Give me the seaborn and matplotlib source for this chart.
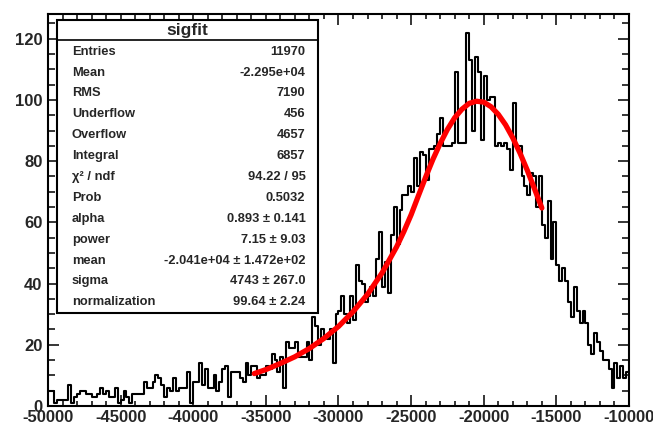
import numpy as np
import pandas as pd
import matplotlib.pyplot as plt
import seaborn as sns
from matplotlib.ticker import MultipleLocator
from matplotlib.patches import Rectangle
from matplotlib.lines import Line2D

""" Data read off the reference """
bin_lo, bin_hi, n_bins = -50000, -10000, 200

# 200 bins, 200 wide each
counts = [
    5, 5, 1, 2, 2, 2, 2, 7, 1, 3,
    4, 5, 5, 4, 4, 3, 3, 4, 6, 4,
    5, 3, 3, 6, 1, 2, 5, 3, 1, 4,
    4, 4, 4, 8, 6, 6, 8, 10, 9, 7,
    3, 6, 5, 9, 5, 6, 6, 6, 11, 1,
    8, 8, 14, 7, 12, 6, 6, 10, 5, 8,
    12, 13, 3, 11, 11, 11, 9, 8, 14, 10,
    13, 13, 9, 10, 10, 13, 12, 17, 15, 11,
    16, 6, 21, 19, 19, 21, 16, 16, 16, 21,
    15, 29, 26, 20, 25, 23, 22, 25, 14, 30,
    31, 36, 30, 27, 36, 28, 46, 41, 40, 34,
    36, 39, 36, 48, 57, 39, 47, 37, 56, 65,
    53, 64, 69, 69, 72, 70, 81, 72, 83, 82,
    74, 84, 84, 85, 89, 94, 85, 85, 85, 86,
    109, 86, 86, 86, 122, 113, 90, 114, 109, 87,
    108, 100, 101, 101, 85, 86, 85, 86, 84, 77,
    99, 85, 85, 75, 72, 69, 76, 75, 65, 75,
    59, 55, 67, 48, 60, 46, 41, 45, 41, 34,
    29, 39, 31, 27, 31, 27, 20, 17, 24, 21,
    18, 15, 15, 12, 6, 14, 9, 13, 9, 11,
]

# red fit curve
fit_x = [-35800, -35000, -34000, -33000, -32000, -31000, -30000, -29000,
         -28000, -27000, -26000, -25500, -25000, -24500, -24000, -23500,
         -23000, -22500, -22000, -21500, -21000, -20500, -20000, -19500,
         -19000, -18500, -18000, -17500, -17000, -16500, -16000]
fit_y = [10.6, 11.9, 13.9, 16.1, 18.8, 22.1, 26.0, 30.8,
         36.5, 43.5, 52.0, 57.0, 62.5, 68.7, 74.8, 80.6,
         85.8, 90.4, 94.2, 97.0, 98.9, 99.6, 99.3, 97.8,
         95.3, 91.9, 87.6, 82.6, 77.0, 70.9, 64.7]

stats_title = 'sigfit'
stat_names = ['Entries', 'Mean', 'RMS', 'Underflow', 'Overflow', 'Integral',
              'χ² / ndf', 'Prob', 'alpha', 'power', 'mean', 'sigma',
              'normalization']
stat_values = ['11970', '-2.295e+04', '7190', '456', '4657', '6857',
               '94.22 / 95', '0.5032', '0.893 ± 0.141', '7.15 ± 9.03',
               '-2.041e+04 ± 1.472e+02', '4743 ± 267.0', '99.64 ± 2.24']

""" Style """
sns.set_theme(style='ticks')
plt.rcParams['font.family'] = ['Liberation Sans', 'DejaVu Sans']
plt.rcParams['font.weight'] = 'bold'
plt.rcParams['axes.unicode_minus'] = False

W, H = 653, 428
bin_w = (bin_hi - bin_lo) / n_bins
df = pd.DataFrame({'x': bin_lo + bin_w * (np.arange(n_bins) + 0.5), 'n': counts})

fig = plt.figure(figsize=(W / 100, H / 100), dpi=100)
ax = fig.add_axes([48 / W, 1 - 406 / H, (629 - 48) / W, (406 - 14) / H])

sns.histplot(data=df, x='x', weights='n', bins=n_bins, binrange=(bin_lo, bin_hi),
             element='step', fill=False, color='black', linewidth=1.5, ax=ax)
sns.lineplot(x=fit_x, y=fit_y, color='red', linewidth=3.8, ax=ax)

ax.set_xlim(bin_lo, bin_hi)
ax.set_ylim(0, 128.1)
ax.set_xlabel('')
ax.set_ylabel('')
ax.xaxis.set_major_locator(MultipleLocator(5000))
ax.xaxis.set_minor_locator(MultipleLocator(1000))
ax.yaxis.set_major_locator(MultipleLocator(20))
ax.yaxis.set_minor_locator(MultipleLocator(5))
ax.tick_params(which='both', direction='in', top=True, right=True,
               width=1.1, color='black', labelsize=12)
ax.tick_params(which='major', length=8)
ax.tick_params(axis='x', which='minor', length=3.4)
ax.tick_params(axis='y', which='minor', length=4.8)
ax.tick_params(axis='x', pad=3)
ax.tick_params(axis='y', pad=4)
for lab in ax.get_xticklabels() + ax.get_yticklabels():
    lab.set_fontweight('bold')
for sp in ax.spines.values():
    sp.set_linewidth(1.5)
    sp.set_color('black')

# stats box
bx0, bx1, by0, by1 = 57, 318, 20, 313
fig.add_artist(Rectangle((bx0 / W, 1 - by1 / H), (bx1 - bx0) / W, (by1 - by0) / H,
                         transform=fig.transFigure, facecolor='white',
                         edgecolor='black', linewidth=1.5, zorder=5))
fig.add_artist(Line2D([bx0 / W, bx1 / W], [1 - 40 / H] * 2,
                      transform=fig.transFigure, color='black', lw=1.2, zorder=6))
fig.text((bx0 + bx1) / 2 / W, 1 - 30 / H, stats_title, ha='center', va='center',
         fontsize=12.5, fontweight='bold', zorder=7)
for i, (name, val) in enumerate(zip(stat_names, stat_values)):
    yy = 1 - (51.7 + 20.88 * i) / H
    fig.text(72 / W, yy, name, ha='left', va='center', fontsize=9.3,
             fontweight='bold', zorder=7)
    fig.text(305.5 / W, yy, val, ha='right', va='center', fontsize=9.3,
             fontweight='bold', zorder=7)

plt.savefig('out.png', dpi=100)
